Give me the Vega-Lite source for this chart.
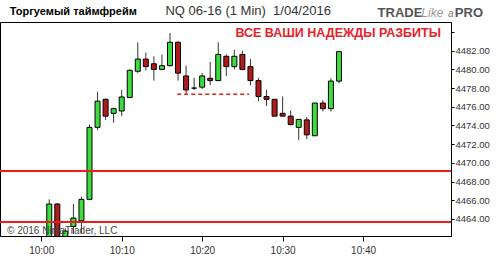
{
  "$schema": "https://vega.github.io/schema/vega-lite/v6.json",
  "width": 451,
  "height": 214,
  "autosize": {"type": "none"},
  "padding": {"left": 0, "top": 22, "right": 49, "bottom": 38},
  "background": "white",
  "config": {
    "view": {"stroke": "black", "strokeWidth": 1},
    "font": "Liberation Sans",
    "axis": {"grid": false, "title": null, "labelFont": "Liberation Sans", "labelFontSize": 10, "labelColor": "#333333", "tickColor": "black", "domainColor": "black", "labelOverlap": false}
  },
  "datasets": {
    "candles": [
      {"time": "2016-01-04T10:01:00", "o": 4461.5, "h": 4466.1, "l": 4461.0, "c": 4465.6},
      {"time": "2016-01-04T10:02:00", "o": 4465.6, "h": 4465.7, "l": 4461.0, "c": 4461.5},
      {"time": "2016-01-04T10:03:00", "o": 4461.8, "h": 4463.0, "l": 4461.5, "c": 4462.7},
      {"time": "2016-01-04T10:04:00", "o": 4463.2, "h": 4465.6, "l": 4462.4, "c": 4464.1},
      {"time": "2016-01-04T10:05:00", "o": 4463.8, "h": 4466.4, "l": 4462.5, "c": 4466.1},
      {"time": "2016-01-04T10:06:00", "o": 4466.1, "h": 4474.1, "l": 4466.0, "c": 4473.8},
      {"time": "2016-01-04T10:07:00", "o": 4473.8, "h": 4477.6, "l": 4473.5, "c": 4476.6},
      {"time": "2016-01-04T10:08:00", "o": 4476.8, "h": 4476.9, "l": 4474.6, "c": 4475.0},
      {"time": "2016-01-04T10:09:00", "o": 4475.3, "h": 4475.9, "l": 4474.3, "c": 4475.8},
      {"time": "2016-01-04T10:10:00", "o": 4475.55, "h": 4477.8, "l": 4475.0, "c": 4477.05},
      {"time": "2016-01-04T10:11:00", "o": 4477.0, "h": 4480.0, "l": 4477.0, "c": 4479.9},
      {"time": "2016-01-04T10:12:00", "o": 4479.8, "h": 4482.9, "l": 4479.6, "c": 4481.1},
      {"time": "2016-01-04T10:13:00", "o": 4481.1, "h": 4481.8, "l": 4479.9, "c": 4480.3},
      {"time": "2016-01-04T10:14:00", "o": 4480.6, "h": 4481.4, "l": 4478.8, "c": 4480.0},
      {"time": "2016-01-04T10:15:00", "o": 4480.0, "h": 4481.6, "l": 4479.9, "c": 4480.4},
      {"time": "2016-01-04T10:16:00", "o": 4480.4, "h": 4483.9, "l": 4480.3, "c": 4482.9},
      {"time": "2016-01-04T10:17:00", "o": 4482.9, "h": 4483.0, "l": 4478.8, "c": 4479.6},
      {"time": "2016-01-04T10:18:00", "o": 4479.3, "h": 4480.4, "l": 4477.4, "c": 4477.8},
      {"time": "2016-01-04T10:19:00", "o": 4478.0, "h": 4479.1, "l": 4477.8, "c": 4478.0},
      {"time": "2016-01-04T10:20:00", "o": 4478.1, "h": 4479.6, "l": 4477.9, "c": 4479.3},
      {"time": "2016-01-04T10:21:00", "o": 4479.05, "h": 4480.8, "l": 4478.3, "c": 4478.8},
      {"time": "2016-01-04T10:22:00", "o": 4478.8, "h": 4482.9, "l": 4478.8, "c": 4481.6},
      {"time": "2016-01-04T10:23:00", "o": 4481.4, "h": 4481.6, "l": 4479.3, "c": 4480.3},
      {"time": "2016-01-04T10:24:00", "o": 4480.3, "h": 4482.1, "l": 4480.0, "c": 4481.4},
      {"time": "2016-01-04T10:25:00", "o": 4481.6, "h": 4482.0, "l": 4479.9, "c": 4480.0},
      {"time": "2016-01-04T10:26:00", "o": 4480.3, "h": 4481.1, "l": 4478.3, "c": 4478.8},
      {"time": "2016-01-04T10:27:00", "o": 4478.8, "h": 4479.1, "l": 4476.6, "c": 4477.1},
      {"time": "2016-01-04T10:28:00", "o": 4477.1, "h": 4477.8, "l": 4476.1, "c": 4476.8},
      {"time": "2016-01-04T10:29:00", "o": 4476.8, "h": 4476.85, "l": 4475.0, "c": 4475.0},
      {"time": "2016-01-04T10:30:00", "o": 4475.3, "h": 4477.1, "l": 4475.0, "c": 4475.0},
      {"time": "2016-01-04T10:31:00", "o": 4475.0, "h": 4475.6, "l": 4474.0, "c": 4474.1},
      {"time": "2016-01-04T10:32:00", "o": 4473.8, "h": 4474.7, "l": 4472.45, "c": 4474.65},
      {"time": "2016-01-04T10:33:00", "o": 4474.6, "h": 4474.9, "l": 4472.55, "c": 4473.0},
      {"time": "2016-01-04T10:34:00", "o": 4472.9, "h": 4476.4, "l": 4472.9, "c": 4476.4},
      {"time": "2016-01-04T10:35:00", "o": 4476.4, "h": 4476.7, "l": 4475.5, "c": 4475.8},
      {"time": "2016-01-04T10:36:00", "o": 4475.8, "h": 4479.05, "l": 4475.5, "c": 4478.75},
      {"time": "2016-01-04T10:37:00", "o": 4478.75, "h": 4481.9, "l": 4478.5, "c": 4481.9}
    ]
  },
  "layer": [
    {
      "data": {"name": "candles"},
      "mark": {"type": "rule", "color": "#333333", "strokeWidth": 1, "clip": true},
      "encoding": {
        "x": {
          "field": "time", "type": "temporal",
          "scale": {"domain": [{"year": 2016, "month": 1, "date": 4, "hours": 9, "minutes": 55, "seconds": 30}, {"year": 2016, "month": 1, "date": 4, "hours": 10, "minutes": 50, "seconds": 18}], "nice": false},
          "axis": {"orient": "bottom", "format": "%H:%M", "values": [
            {"year": 2016, "month": 1, "date": 4, "hours": 10, "minutes": 0},
            {"year": 2016, "month": 1, "date": 4, "hours": 10, "minutes": 10},
            {"year": 2016, "month": 1, "date": 4, "hours": 10, "minutes": 20},
            {"year": 2016, "month": 1, "date": 4, "hours": 10, "minutes": 30},
            {"year": 2016, "month": 1, "date": 4, "hours": 10, "minutes": 40}
          ], "tickSize": 5, "labelPadding": 4}
        },
        "y": {
          "field": "l", "type": "quantitative",
          "scale": {"domain": [4462.18, 4485.07], "nice": false, "zero": false},
          "axis": {"orient": "right", "values": [4464, 4466, 4468, 4470, 4472, 4474, 4476, 4478, 4480, 4482, 4484], "labelExpr": "datum.value > 4483 ? '' : format(datum.value, '.2f')", "tickSize": 3, "labelPadding": 1, "labelOverlap": false, "labelFontSize": 9.5, "labelFlush": false, "labelSeparation": 0}
        },
        "y2": {"field": "h"}
      }
    },
    {
      "data": {"name": "candles"},
      "mark": {"type": "bar", "size": 5, "stroke": "black", "strokeWidth": 1, "clip": true},
      "encoding": {
        "x": {"field": "time", "type": "temporal"},
        "y": {"field": "o", "type": "quantitative", "axis": {"orient": "right", "values": [4464, 4466, 4468, 4470, 4472, 4474, 4476, 4478, 4480, 4482, 4484], "labelExpr": "datum.value > 4483 ? '' : format(datum.value, '.2f')", "tickSize": 3, "labelPadding": 1, "labelOverlap": false, "labelFontSize": 9.5, "labelFlush": false, "labelSeparation": 0}},
        "y2": {"field": "c"},
        "color": {"condition": {"test": "datum.c >= datum.o", "value": "#3ddc3d"}, "value": "#b01c1c"}
      }
    },
    {
      "data": {"values": [{"price": 4469.13}, {"price": 4463.68}]},
      "mark": {"type": "rule", "color": "#ee1c1c", "strokeWidth": 2},
      "encoding": {"y": {"field": "price", "type": "quantitative", "axis": {"orient": "right", "values": [4464, 4466, 4468, 4470, 4472, 4474, 4476, 4478, 4480, 4482, 4484], "labelExpr": "datum.value > 4483 ? '' : format(datum.value, '.2f')", "tickSize": 3, "labelPadding": 1, "labelOverlap": false, "labelFontSize": 9.5, "labelFlush": false, "labelSeparation": 0}}}
    },
    {
      "data": {"values": [{"start": "2016-01-04T10:16:54", "end": "2016-01-04T10:25:50", "price": 4477.34}]},
      "mark": {"type": "rule", "color": "#e02020", "strokeWidth": 1.5, "strokeDash": [4, 3]},
      "encoding": {
        "x": {"field": "start", "type": "temporal"},
        "x2": {"field": "end"},
        "y": {"field": "price", "type": "quantitative", "axis": {"orient": "right", "values": [4464, 4466, 4468, 4470, 4472, 4474, 4476, 4478, 4480, 4482, 4484], "labelExpr": "datum.value > 4483 ? '' : format(datum.value, '.2f')", "tickSize": 3, "labelPadding": 1, "labelOverlap": false, "labelFontSize": 9.5, "labelFlush": false, "labelSeparation": 0}}
      }
    },
    {
      "data": {"values": [{"label": "ВСЕ ВАШИ НАДЕЖДЫ РАЗБИТЫ", "time": "2016-01-04T10:49:40", "price": 4483.9}]},
      "mark": {"type": "text", "align": "right", "baseline": "middle", "font": "Liberation Sans", "fontSize": 12.5, "fontWeight": "bold", "color": "#e8202a"},
      "encoding": {"x": {"field": "time", "type": "temporal"}, "y": {"field": "price", "type": "quantitative", "axis": {"orient": "right", "values": [4464, 4466, 4468, 4470, 4472, 4474, 4476, 4478, 4480, 4482, 4484], "labelExpr": "datum.value > 4483 ? '' : format(datum.value, '.2f')", "tickSize": 3, "labelPadding": 1, "labelOverlap": false, "labelFontSize": 9.5, "labelFlush": false, "labelSeparation": 0}}, "text": {"field": "label"}}
    },
    {
      "data": {"values": [{"label": "© 2016 NinjaTrader, LLC", "time": "2016-01-04T09:55:45", "price": 4462.75}]},
      "mark": {"type": "text", "align": "left", "baseline": "middle", "font": "Liberation Sans", "fontSize": 10, "color": "#444444"},
      "encoding": {"x": {"field": "time", "type": "temporal"}, "y": {"field": "price", "type": "quantitative", "axis": {"orient": "right", "values": [4464, 4466, 4468, 4470, 4472, 4474, 4476, 4478, 4480, 4482, 4484], "labelExpr": "datum.value > 4483 ? '' : format(datum.value, '.2f')", "tickSize": 3, "labelPadding": 1, "labelOverlap": false, "labelFontSize": 9.5, "labelFlush": false, "labelSeparation": 0}}, "text": {"field": "label"}}
    },
    {
      "data": {"values": [{"label": "Торгуемый таймфрейм", "time": "2016-01-04T09:56:06", "price": 4486.1}]},
      "mark": {"type": "text", "align": "left", "baseline": "middle", "font": "Liberation Sans", "fontSize": 11, "fontWeight": "bold", "color": "black"},
      "encoding": {"x": {"field": "time", "type": "temporal"}, "y": {"field": "price", "type": "quantitative", "axis": {"orient": "right", "values": [4464, 4466, 4468, 4470, 4472, 4474, 4476, 4478, 4480, 4482, 4484], "labelExpr": "datum.value > 4483 ? '' : format(datum.value, '.2f')", "tickSize": 3, "labelPadding": 1, "labelOverlap": false, "labelFontSize": 9.5, "labelFlush": false, "labelSeparation": 0}}, "text": {"field": "label"}}
    },
    {
      "data": {"values": [{"label": "NQ 06-16 (1 Min)\u00a0\u00a01/04/2016", "time": "2016-01-04T10:15:26", "price": 4486.25}]},
      "mark": {"type": "text", "align": "left", "baseline": "middle", "font": "Liberation Sans", "fontSize": 13, "color": "#333333"},
      "encoding": {"x": {"field": "time", "type": "temporal"}, "y": {"field": "price", "type": "quantitative", "axis": {"orient": "right", "values": [4464, 4466, 4468, 4470, 4472, 4474, 4476, 4478, 4480, 4482, 4484], "labelExpr": "datum.value > 4483 ? '' : format(datum.value, '.2f')", "tickSize": 3, "labelPadding": 1, "labelOverlap": false, "labelFontSize": 9.5, "labelFlush": false, "labelSeparation": 0}}, "text": {"field": "label"}}
    },
    {
      "data": {"values": [{"label": "TRADE", "time": "2016-01-04T10:41:48", "price": 4486.0}, {"label": "PRO", "time": "2016-01-04T10:51:24", "price": 4486.0}]},
      "mark": {"type": "text", "align": "left", "baseline": "middle", "font": "Liberation Sans", "fontSize": 13, "fontWeight": "bold", "color": "#555555"},
      "encoding": {"x": {"field": "time", "type": "temporal"}, "y": {"field": "price", "type": "quantitative", "axis": {"orient": "right", "values": [4464, 4466, 4468, 4470, 4472, 4474, 4476, 4478, 4480, 4482, 4484], "labelExpr": "datum.value > 4483 ? '' : format(datum.value, '.2f')", "tickSize": 3, "labelPadding": 1, "labelOverlap": false, "labelFontSize": 9.5, "labelFlush": false, "labelSeparation": 0}}, "text": {"field": "label"}}
    },
    {
      "data": {"values": [{"label": "Like", "time": "2016-01-04T10:47:14", "price": 4486.0}]},
      "mark": {"type": "text", "align": "left", "baseline": "middle", "font": "Liberation Sans", "fontSize": 12, "fontStyle": "italic", "color": "#999999"},
      "encoding": {"x": {"field": "time", "type": "temporal"}, "y": {"field": "price", "type": "quantitative", "axis": {"orient": "right", "values": [4464, 4466, 4468, 4470, 4472, 4474, 4476, 4478, 4480, 4482, 4484], "labelExpr": "datum.value > 4483 ? '' : format(datum.value, '.2f')", "tickSize": 3, "labelPadding": 1, "labelOverlap": false, "labelFontSize": 9.5, "labelFlush": false, "labelSeparation": 0}}, "text": {"field": "label"}}
    },
    {
      "data": {"values": [{"label": "a", "time": "2016-01-04T10:50:33", "price": 4485.95}]},
      "mark": {"type": "text", "align": "left", "baseline": "middle", "font": "Liberation Sans", "fontSize": 10, "fontStyle": "italic", "color": "#777777"},
      "encoding": {"x": {"field": "time", "type": "temporal"}, "y": {"field": "price", "type": "quantitative", "axis": {"orient": "right", "values": [4464, 4466, 4468, 4470, 4472, 4474, 4476, 4478, 4480, 4482, 4484], "labelExpr": "datum.value > 4483 ? '' : format(datum.value, '.2f')", "tickSize": 3, "labelPadding": 1, "labelOverlap": false, "labelFontSize": 9.5, "labelFlush": false, "labelSeparation": 0}}, "text": {"field": "label"}}
    }
  ]
}
